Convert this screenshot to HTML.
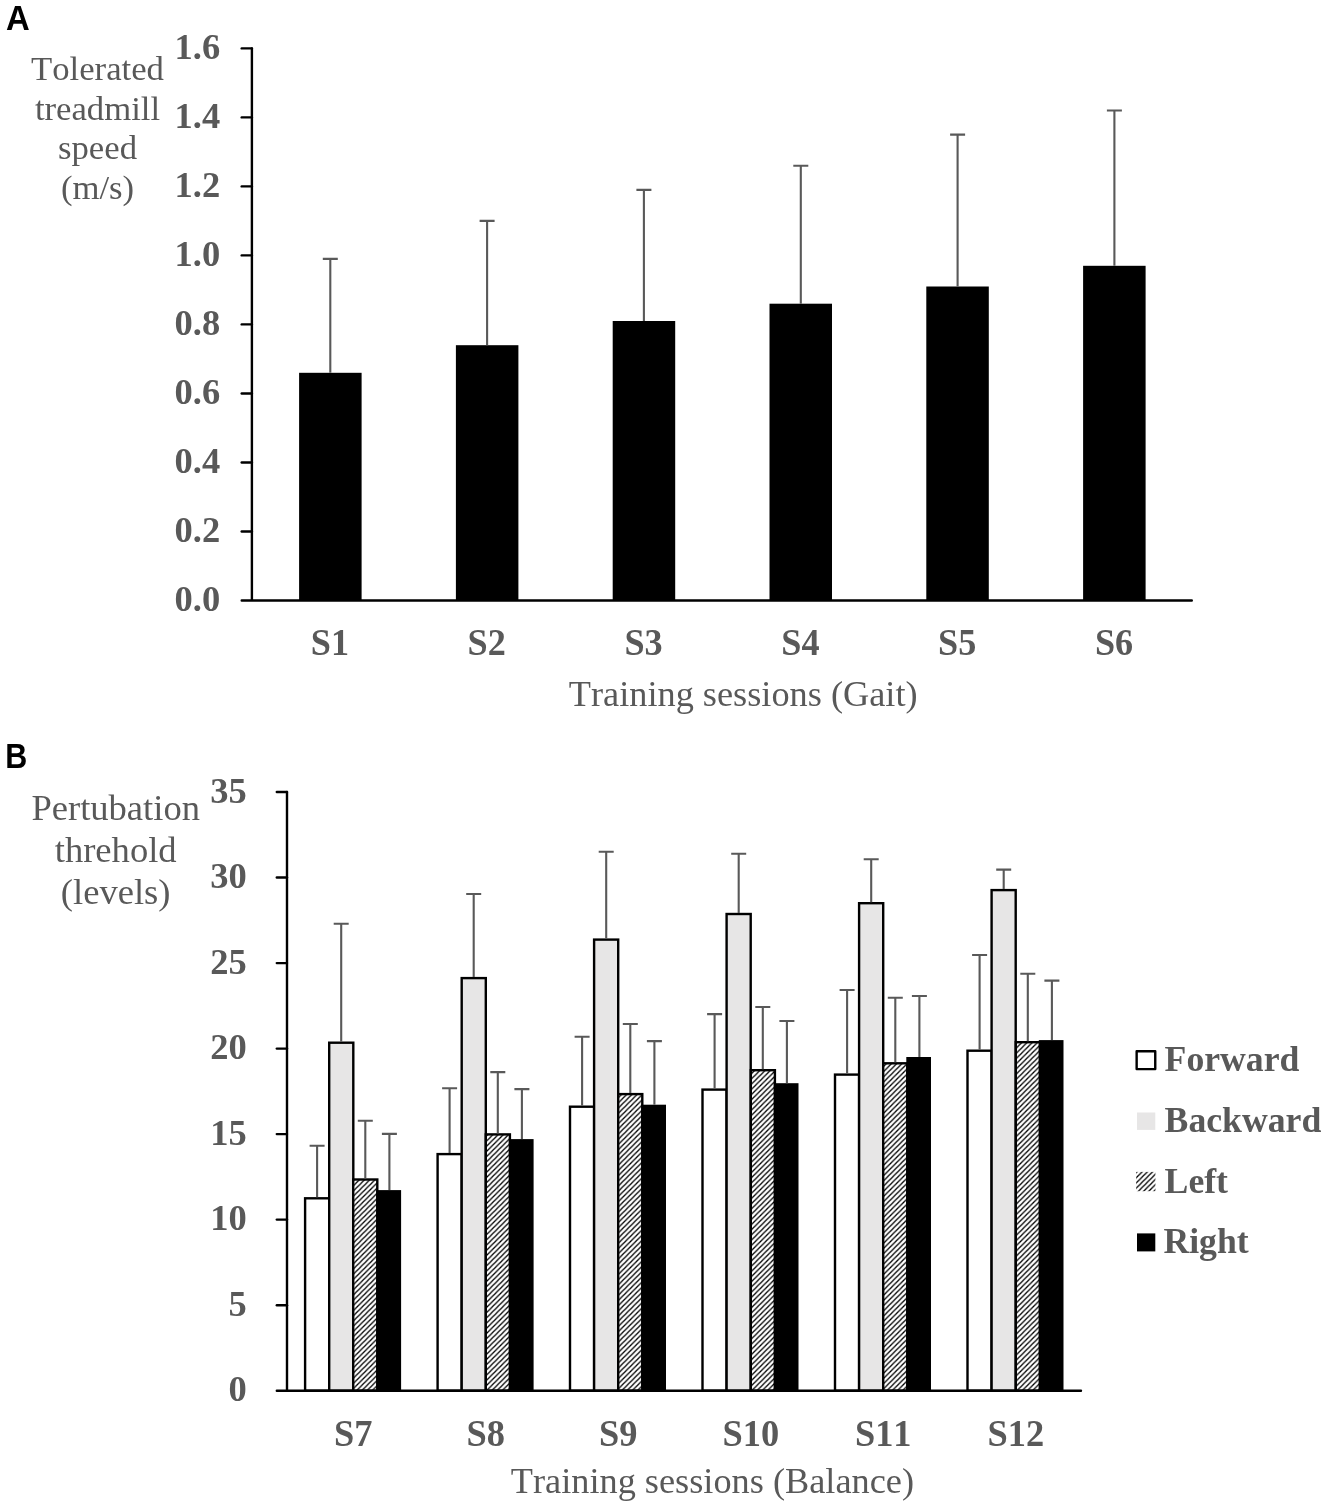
<!DOCTYPE html>
<html lang="en"><head><meta charset="utf-8"><title>Figure</title>
<style>
html,body{margin:0;padding:0;background:#fff;}
body{width:1329px;height:1508px;overflow:hidden;}
svg{display:block;will-change:transform;}
text{font-family:"Liberation Serif","Times New Roman",serif;fill:#595959;font-kerning:none;}
.b{font-weight:bold;}
.pl{font-family:"Liberation Sans",Arial,sans-serif;font-weight:bold;fill:#000;}
</style></head><body>
<svg width="1329" height="1508" viewBox="0 0 1329 1508">
<defs>
<pattern id="hatch" patternUnits="userSpaceOnUse" width="5.2" height="5.2">
<rect width="5.2" height="5.2" fill="#fff"/>
<path d="M-1.3,1.3 L1.3,-1.3 M-0.2,5.4 L5.4,-0.2 M3.9,6.5 L6.5,3.9" stroke="#000" stroke-width="1.3"/>
</pattern>
</defs>
<rect width="1329" height="1508" fill="#fff"/>

<text class="pl" transform="translate(5.95,30.1) scale(0.945,1)" font-size="34.8">A</text>
<text x="97.5" y="79.8" font-size="34.7" text-anchor="middle">Tolerated</text>
<text x="97.5" y="120.0" font-size="34.7" text-anchor="middle">treadmill</text>
<text x="97.5" y="159.0" font-size="34.7" text-anchor="middle">speed</text>
<text x="97.5" y="199.4" font-size="34.7" text-anchor="middle">(m/s)</text>
<rect x="299.1" y="372.8" width="62.5" height="227.8" fill="#000"/>
<path d="M330.3,372.8 V258.9 M322.8,258.9 H337.8" stroke="#595959" stroke-width="2.1" fill="none"/>
<text class="b" transform="translate(329.9,654.7) scale(0.965,1)" font-size="37.5" text-anchor="middle">S1</text>
<rect x="455.9" y="345.2" width="62.5" height="255.4" fill="#000"/>
<path d="M487.1,345.2 V220.9 M479.6,220.9 H494.6" stroke="#595959" stroke-width="2.1" fill="none"/>
<text class="b" transform="translate(486.7,654.7) scale(0.965,1)" font-size="37.5" text-anchor="middle">S2</text>
<rect x="612.7" y="321.0" width="62.5" height="279.6" fill="#000"/>
<path d="M643.9,321.0 V189.9 M636.4,189.9 H651.4" stroke="#595959" stroke-width="2.1" fill="none"/>
<text class="b" transform="translate(643.5,654.7) scale(0.965,1)" font-size="37.5" text-anchor="middle">S3</text>
<rect x="769.5" y="303.7" width="62.5" height="296.8" fill="#000"/>
<path d="M800.8,303.7 V165.7 M793.3,165.7 H808.3" stroke="#595959" stroke-width="2.1" fill="none"/>
<text class="b" transform="translate(800.4,654.7) scale(0.965,1)" font-size="37.5" text-anchor="middle">S4</text>
<rect x="926.3" y="286.5" width="62.5" height="314.1" fill="#000"/>
<path d="M957.6,286.5 V134.6 M950.1,134.6 H965.1" stroke="#595959" stroke-width="2.1" fill="none"/>
<text class="b" transform="translate(957.2,654.7) scale(0.965,1)" font-size="37.5" text-anchor="middle">S5</text>
<rect x="1083.1" y="265.8" width="62.5" height="334.8" fill="#000"/>
<path d="M1114.4,265.8 V110.5 M1106.9,110.5 H1121.9" stroke="#595959" stroke-width="2.1" fill="none"/>
<text class="b" transform="translate(1114.0,654.7) scale(0.965,1)" font-size="37.5" text-anchor="middle">S6</text>
<path d="M251.9,48.35 V600.55 M241.70000000000002,600.55 H1191.8" stroke="#000" stroke-width="2.4" fill="none" stroke-linecap="round"/>
<text class="b" x="220.2" y="611.0" font-size="36.5" text-anchor="end">0.0</text>
<path d="M241.70000000000002,531.5 H251.9" stroke="#000" stroke-width="2.4" stroke-linecap="round"/>
<text class="b" x="220.2" y="542.0" font-size="36.5" text-anchor="end">0.2</text>
<path d="M241.70000000000002,462.5 H251.9" stroke="#000" stroke-width="2.4" stroke-linecap="round"/>
<text class="b" x="220.2" y="473.0" font-size="36.5" text-anchor="end">0.4</text>
<path d="M241.70000000000002,393.5 H251.9" stroke="#000" stroke-width="2.4" stroke-linecap="round"/>
<text class="b" x="220.2" y="404.0" font-size="36.5" text-anchor="end">0.6</text>
<path d="M241.70000000000002,324.4 H251.9" stroke="#000" stroke-width="2.4" stroke-linecap="round"/>
<text class="b" x="220.2" y="334.9" font-size="36.5" text-anchor="end">0.8</text>
<path d="M241.70000000000002,255.4 H251.9" stroke="#000" stroke-width="2.4" stroke-linecap="round"/>
<text class="b" x="220.2" y="265.9" font-size="36.5" text-anchor="end">1.0</text>
<path d="M241.70000000000002,186.4 H251.9" stroke="#000" stroke-width="2.4" stroke-linecap="round"/>
<text class="b" x="220.2" y="196.9" font-size="36.5" text-anchor="end">1.2</text>
<path d="M241.70000000000002,117.4 H251.9" stroke="#000" stroke-width="2.4" stroke-linecap="round"/>
<text class="b" x="220.2" y="127.9" font-size="36.5" text-anchor="end">1.4</text>
<path d="M241.70000000000002,48.4 H251.9" stroke="#000" stroke-width="2.4" stroke-linecap="round"/>
<text class="b" x="220.2" y="58.9" font-size="36.5" text-anchor="end">1.6</text>
<text x="743.2" y="706.2" font-size="36.3" text-anchor="middle">Training sessions (Gait)</text>
<text class="pl" transform="translate(5.25,768.3) scale(0.875,1)" font-size="34.8">B</text>
<text x="115.7" y="820.1" font-size="36.6" text-anchor="middle">Pertubation</text>
<text x="115.7" y="861.5" font-size="36.6" text-anchor="middle">threhold</text>
<text x="115.7" y="903.7" font-size="36.6" text-anchor="middle">(levels)</text>
<rect x="305.1" y="1198.3" width="24.1" height="192.4" fill="#fff" stroke="#000" stroke-width="2.4"/>
<rect x="329.2" y="1042.7" width="24.1" height="348.0" fill="#E7E6E6" stroke="#000" stroke-width="2.4"/>
<rect x="353.2" y="1179.5" width="24.1" height="211.2" fill="url(#hatch)" stroke="#000" stroke-width="2.4"/>
<rect x="376.4" y="1190.1" width="24.7" height="200.6" fill="#000"/>
<path d="M317.1,1197.3 V1145.7 M309.6,1145.7 H324.6" stroke="#595959" stroke-width="2.1" fill="none"/>
<path d="M341.2,1041.7 V923.7 M333.7,923.7 H348.7" stroke="#595959" stroke-width="2.1" fill="none"/>
<path d="M365.3,1178.5 V1120.7 M357.8,1120.7 H372.8" stroke="#595959" stroke-width="2.1" fill="none"/>
<path d="M389.4,1190.1 V1133.9 M381.9,1133.9 H396.9" stroke="#595959" stroke-width="2.1" fill="none"/>
<text class="b" transform="translate(353.2,1445.8) scale(0.965,1)" font-size="37.7" text-anchor="middle">S7</text>
<rect x="437.6" y="1154.1" width="24.1" height="236.6" fill="#fff" stroke="#000" stroke-width="2.4"/>
<rect x="461.7" y="978.1" width="24.1" height="412.6" fill="#E7E6E6" stroke="#000" stroke-width="2.4"/>
<rect x="485.8" y="1134.4" width="24.1" height="256.3" fill="url(#hatch)" stroke="#000" stroke-width="2.4"/>
<rect x="508.9" y="1139.1" width="24.7" height="251.6" fill="#000"/>
<path d="M449.6,1153.1 V1088.3 M442.1,1088.3 H457.1" stroke="#595959" stroke-width="2.1" fill="none"/>
<path d="M473.7,977.1 V894.0 M466.2,894.0 H481.2" stroke="#595959" stroke-width="2.1" fill="none"/>
<path d="M497.8,1133.4 V1072.1 M490.3,1072.1 H505.3" stroke="#595959" stroke-width="2.1" fill="none"/>
<path d="M521.9,1139.1 V1089.1 M514.4,1089.1 H529.4" stroke="#595959" stroke-width="2.1" fill="none"/>
<text class="b" transform="translate(485.8,1445.8) scale(0.965,1)" font-size="37.7" text-anchor="middle">S8</text>
<rect x="570.0" y="1106.7" width="24.1" height="284.0" fill="#fff" stroke="#000" stroke-width="2.4"/>
<rect x="594.1" y="939.6" width="24.1" height="451.1" fill="#E7E6E6" stroke="#000" stroke-width="2.4"/>
<rect x="618.2" y="1094.1" width="24.1" height="296.6" fill="url(#hatch)" stroke="#000" stroke-width="2.4"/>
<rect x="641.3" y="1104.7" width="24.7" height="286.0" fill="#000"/>
<path d="M582.1,1105.7 V1036.7 M574.6,1036.7 H589.6" stroke="#595959" stroke-width="2.1" fill="none"/>
<path d="M606.2,938.6 V851.8 M598.7,851.8 H613.7" stroke="#595959" stroke-width="2.1" fill="none"/>
<path d="M630.3,1093.1 V1024.0 M622.8,1024.0 H637.8" stroke="#595959" stroke-width="2.1" fill="none"/>
<path d="M654.4,1104.7 V1041.1 M646.9,1041.1 H661.9" stroke="#595959" stroke-width="2.1" fill="none"/>
<text class="b" transform="translate(618.2,1445.8) scale(0.965,1)" font-size="37.7" text-anchor="middle">S9</text>
<rect x="702.5" y="1089.6" width="24.1" height="301.1" fill="#fff" stroke="#000" stroke-width="2.4"/>
<rect x="726.6" y="914.0" width="24.1" height="476.7" fill="#E7E6E6" stroke="#000" stroke-width="2.4"/>
<rect x="750.8" y="1070.2" width="24.1" height="320.5" fill="url(#hatch)" stroke="#000" stroke-width="2.4"/>
<rect x="773.8" y="1083.2" width="24.7" height="307.5" fill="#000"/>
<path d="M714.6,1088.6 V1014.1 M707.1,1014.1 H722.1" stroke="#595959" stroke-width="2.1" fill="none"/>
<path d="M738.7,913.0 V853.7 M731.2,853.7 H746.2" stroke="#595959" stroke-width="2.1" fill="none"/>
<path d="M762.8,1069.2 V1007.0 M755.3,1007.0 H770.3" stroke="#595959" stroke-width="2.1" fill="none"/>
<path d="M786.9,1083.2 V1021.0 M779.4,1021.0 H794.4" stroke="#595959" stroke-width="2.1" fill="none"/>
<text class="b" transform="translate(750.8,1445.8) scale(0.965,1)" font-size="37.7" text-anchor="middle">S10</text>
<rect x="835.0" y="1074.6" width="24.1" height="316.1" fill="#fff" stroke="#000" stroke-width="2.4"/>
<rect x="859.1" y="903.2" width="24.1" height="487.5" fill="#E7E6E6" stroke="#000" stroke-width="2.4"/>
<rect x="883.2" y="1063.3" width="24.1" height="327.4" fill="url(#hatch)" stroke="#000" stroke-width="2.4"/>
<rect x="906.3" y="1057.0" width="24.7" height="333.7" fill="#000"/>
<path d="M847.1,1073.6 V990.0 M839.6,990.0 H854.6" stroke="#595959" stroke-width="2.1" fill="none"/>
<path d="M871.2,902.2 V859.3 M863.7,859.3 H878.7" stroke="#595959" stroke-width="2.1" fill="none"/>
<path d="M895.3,1062.3 V997.7 M887.8,997.7 H902.8" stroke="#595959" stroke-width="2.1" fill="none"/>
<path d="M919.4,1057.0 V996.0 M911.9,996.0 H926.9" stroke="#595959" stroke-width="2.1" fill="none"/>
<text class="b" transform="translate(883.2,1445.8) scale(0.965,1)" font-size="37.7" text-anchor="middle">S11</text>
<rect x="967.5" y="1050.7" width="24.1" height="340.0" fill="#fff" stroke="#000" stroke-width="2.4"/>
<rect x="991.6" y="890.1" width="24.1" height="500.6" fill="#E7E6E6" stroke="#000" stroke-width="2.4"/>
<rect x="1015.8" y="1042.2" width="24.1" height="348.5" fill="url(#hatch)" stroke="#000" stroke-width="2.4"/>
<rect x="1038.8" y="1040.1" width="24.7" height="350.6" fill="#000"/>
<path d="M979.6,1049.7 V955.0 M972.1,955.0 H987.1" stroke="#595959" stroke-width="2.1" fill="none"/>
<path d="M1003.7,889.1 V869.6 M996.2,869.6 H1011.2" stroke="#595959" stroke-width="2.1" fill="none"/>
<path d="M1027.8,1041.2 V973.8 M1020.3,973.8 H1035.3" stroke="#595959" stroke-width="2.1" fill="none"/>
<path d="M1051.9,1040.1 V980.6 M1044.4,980.6 H1059.4" stroke="#595959" stroke-width="2.1" fill="none"/>
<text class="b" transform="translate(1015.8,1445.8) scale(0.965,1)" font-size="37.7" text-anchor="middle">S12</text>
<path d="M287.0,792.0 V1390.7 M276.8,1390.7 H1081.0" stroke="#000" stroke-width="2.4" fill="none" stroke-linecap="round"/>
<text class="b" x="246.7" y="1401.4" font-size="36.5" text-anchor="end">0</text>
<path d="M276.8,1305.2 H287.0" stroke="#000" stroke-width="2.4" stroke-linecap="round"/>
<text class="b" x="246.7" y="1315.9" font-size="36.5" text-anchor="end">5</text>
<path d="M276.8,1219.6 H287.0" stroke="#000" stroke-width="2.4" stroke-linecap="round"/>
<text class="b" x="246.7" y="1230.3" font-size="36.5" text-anchor="end">10</text>
<path d="M276.8,1134.1 H287.0" stroke="#000" stroke-width="2.4" stroke-linecap="round"/>
<text class="b" x="246.7" y="1144.8" font-size="36.5" text-anchor="end">15</text>
<path d="M276.8,1048.6 H287.0" stroke="#000" stroke-width="2.4" stroke-linecap="round"/>
<text class="b" x="246.7" y="1059.3" font-size="36.5" text-anchor="end">20</text>
<path d="M276.8,963.1 H287.0" stroke="#000" stroke-width="2.4" stroke-linecap="round"/>
<text class="b" x="246.7" y="973.8" font-size="36.5" text-anchor="end">25</text>
<path d="M276.8,877.5 H287.0" stroke="#000" stroke-width="2.4" stroke-linecap="round"/>
<text class="b" x="246.7" y="888.2" font-size="36.5" text-anchor="end">30</text>
<path d="M276.8,792.0 H287.0" stroke="#000" stroke-width="2.4" stroke-linecap="round"/>
<text class="b" x="246.7" y="802.7" font-size="36.5" text-anchor="end">35</text>
<text x="712.4" y="1492.6" font-size="36.3" text-anchor="middle">Training sessions (Balance)</text>
<rect x="1136.65" y="1051.2" width="18.6" height="17.9" fill="#fff" stroke="#000" stroke-width="2.4" stroke-linejoin="round"/>
<rect x="1137" y="1112.5" width="18.3" height="17.4" fill="#E7E6E6"/>
<rect x="1136.2" y="1171.9" width="19.2" height="19.3" fill="url(#hatch)"/>
<rect x="1137" y="1233.4" width="18.3" height="18" fill="#000"/>
<text class="b" x="1164.6" y="1071.1" font-size="35.7">Forward</text>
<text class="b" x="1164.6" y="1132.2" font-size="35.7">Backward</text>
<text class="b" x="1164.6" y="1192.5" font-size="35.7">Left</text>
<text class="b" x="1163.4" y="1253.1" font-size="35.7">Right</text>
</svg>
</body></html>
